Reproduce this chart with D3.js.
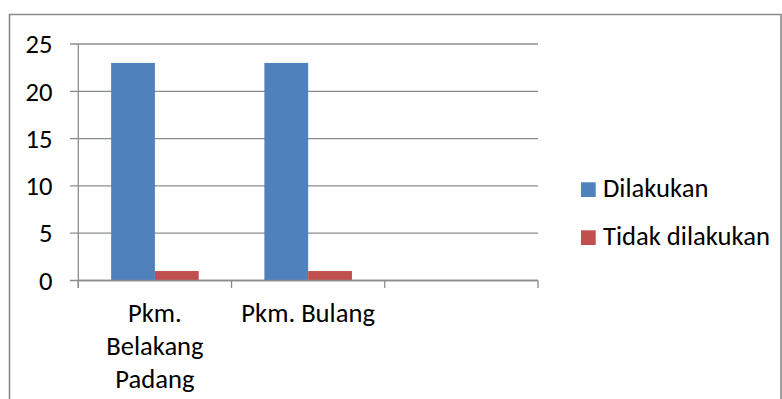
<!DOCTYPE html>
<html>
<head>
<meta charset="utf-8">
<script src="https://cdn.jsdelivr.net/npm/d3@7"></script>
<style>
  html, body { margin: 0; padding: 0; background: #fff; }
  svg { display: block; }
  text { font-family: Carlito, Calibri, Lato, sans-serif; fill: #000; }
</style>
</head>
<body>
<svg id="chart" width="782" height="399"></svg>
<script>
// Chart data
const categories = ["Pkm. Belakang Padang", "Pkm. Bulang", ""];
const seriesNames = ["Dilakukan", "Tidak dilakukan"];
const dilakukan = [23, 23, null];
const tidakDilakukan = [1, 1, null];
const yTicks = [0, 5, 10, 15, 20, 25];

const colors = ["#4F81BD", "#C0504D"];
const fontSize = 26.6;

const svg = d3.select("#chart");

// Outer chart frame (left, top, right edges)
svg.append("path")
  .attr("d", "M9.5,399 V14.5 H781 V399")
  .attr("fill", "none")
  .attr("stroke", "#8a8a8a")
  .attr("stroke-width", 1.6);

const plot = { left: 78.3, right: 538, top: 44, bottom: 280.5 };

const x = d3.scaleBand()
  .domain(categories.map((c, i) => i))
  .range([plot.left, plot.right])
  .paddingInner(0).paddingOuter(0);

// Two bars per category, 150% gap width between groups
const barW = x.bandwidth() / 3.5;
const xSeries = d3.scaleBand()
  .domain([0, 1])
  .range([barW * 0.75, barW * 2.75]);

const y = d3.scaleLinear().domain([0, 25]).range([plot.bottom, plot.top]);

// Horizontal gridlines
svg.append("g")
  .selectAll("line")
  .data(yTicks)
  .join("line")
  .attr("x1", 70).attr("x2", plot.right)
  .attr("y1", d => y(d)).attr("y2", d => y(d))
  .attr("stroke", "#8c8c8c")
  .attr("stroke-width", 1.3);

// Value axis
const yAxis = d3.axisLeft(y).tickValues(yTicks).tickSize(0).tickPadding(0);
const gy = svg.append("g")
  .attr("transform", `translate(${plot.left},0)`)
  .call(yAxis);
gy.select(".domain").remove();
gy.selectAll("text")
  .attr("x", 52.5 - plot.left)
  .attr("dy", "0.33em")
  .attr("text-anchor", "end")
  .style("font-family", "Carlito, Calibri, Lato, sans-serif")
  .style("font-size", fontSize + "px");

svg.append("line")
  .attr("x1", plot.left).attr("x2", plot.left)
  .attr("y1", plot.top).attr("y2", plot.bottom + 7.5)
  .attr("stroke", "#8c8c8c").attr("stroke-width", 1.3);

// Bars
const seriesData = [dilakukan, tidakDilakukan];
seriesData.forEach((vals, s) => {
  svg.append("g")
    .selectAll("rect")
    .data(vals.map((v, i) => ({ v, i })).filter(d => d.v != null))
    .join("rect")
    .attr("x", d => x(d.i) + xSeries(s))
    .attr("width", xSeries.bandwidth())
    .attr("y", d => y(d.v))
    .attr("height", d => y(0) - y(d.v))
    .attr("fill", colors[s]);
});

// Category axis
const xAxis = d3.axisBottom(x).tickSize(0).tickFormat(() => "");
const gx = svg.append("g")
  .attr("transform", `translate(0,${plot.bottom})`)
  .call(xAxis);
gx.select(".domain")
  .attr("d", `M${plot.left},0H${plot.right}`)
  .attr("stroke", "#8c8c8c").attr("stroke-width", 1.3);
gx.selectAll(".tick").remove();

const boundaries = categories.map((c, i) => x(i)).concat([plot.right]);
svg.append("g")
  .selectAll("line")
  .data(boundaries)
  .join("line")
  .attr("x1", d => d).attr("x2", d => d)
  .attr("y1", plot.bottom).attr("y2", plot.bottom + 7.5)
  .attr("stroke", "#8c8c8c").attr("stroke-width", 1.3);

// Category labels, wrapped to the band width
const labels = svg.append("g");
categories.forEach((cat, i) => {
  if (!cat) return;
  const cx = x(i) + x.bandwidth() / 2;
  const t = labels.append("text")
    .attr("x", cx)
    .attr("y", 322)
    .attr("text-anchor", "middle")
    .style("font-size", fontSize + "px");
  const words = cat.split(" ");
  let line = [];
  let lineNo = 0;
  let tspan = t.append("tspan").attr("x", cx).attr("y", 322);
  words.forEach(w => {
    line.push(w);
    tspan.text(line.join(" "));
    if (tspan.node().getComputedTextLength() > x.bandwidth() - 8 && line.length > 1) {
      line.pop();
      tspan.text(line.join(" "));
      line = [w];
      lineNo++;
      tspan = t.append("tspan")
        .attr("x", cx)
        .attr("y", 322 + lineNo * 33)
        .text(w);
    }
  });
});

// Legend
const legend = svg.append("g");
seriesNames.forEach((name, s) => {
  const yy = 182.3 + s * 48;
  legend.append("rect")
    .attr("x", 581).attr("y", yy)
    .attr("width", 14.7).attr("height", 14.7)
    .attr("fill", colors[s]);
  legend.append("text")
    .attr("x", 603)
    .attr("y", yy + 14.5)
    .style("font-size", fontSize + "px")
    .text(name);
});
</script>
</body>
</html>
